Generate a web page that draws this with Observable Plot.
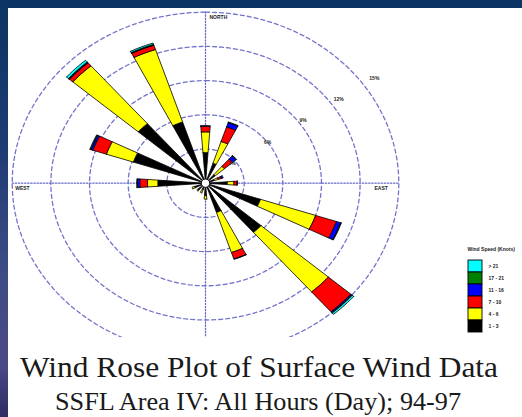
<!DOCTYPE html>
<html><head><meta charset="utf-8">
<script src="https://cdn.jsdelivr.net/npm/d3@7"></script>
<script src="https://cdn.jsdelivr.net/npm/@observablehq/plot@0.6"></script>
<style>
html,body{margin:0;padding:0;background:#fff;}
#page{position:relative;width:522px;height:417px;overflow:hidden;background:#fff;}
#topbar{position:absolute;left:0;top:0;width:522px;height:8px;background:#0b3464;z-index:5}
#leftbar{position:absolute;left:0;top:0;width:8px;height:417px;background:linear-gradient(#0b3464 0%,#1d3c72 35%,#3e4c86 65%,#4a4886 88%,#2e2c62 100%);z-index:5}
#rose{position:absolute;left:0;top:0;width:522px;height:337px;overflow:hidden}
#legend{position:absolute;left:460px;top:240px}
#titles{position:absolute;left:0;top:337px}
</style></head>
<body><div id="page">
<div id="rose"></div>
<div id="legend"></div>
<svg id="titles" width="522" height="80">
  <text id="t1" x="259" y="40" text-anchor="middle" textLength="478" lengthAdjust="spacingAndGlyphs" font-family="Liberation Serif, serif" font-size="30" fill="#1a1a1a"></text>
  <text id="t2" x="258" y="73" text-anchor="middle" textLength="406" lengthAdjust="spacingAndGlyphs" font-family="Liberation Serif, serif" font-size="25" fill="#1a1a1a"></text>
</svg>
<div id="topbar"></div>
<div id="leftbar"></div>
</div>
<script>
// ---- data (percent of time) ----
const directions = ["N","NNE","NE","ENE","E","ESE","SE","SSE","S","SSW","SW","WSW","W","WNW","NW","NNW"];
const speed1to3   = [2.7,1.85,1.0,0.7,1.7,4.5,5.7,2.7,1.1,0.6,0.8,0.9,3.7,5.9,6.9,5.65];
const speed4to6   = [1.8,2.0,0.95,0.35,0.5,4.5,6.9,3.7,0.3,0.3,0.1,0.2,0.8,2.2,6.7,6.7];
const speed7to10  = [0.5,1.35,0.85,0.25,0.25,1.7,2.3,0.6,0,0,0,0,0.6,1.1,0.35,0.4];
const speed11to16 = [0.05,0.4,0.35,0.15,0.03,0.35,0.1,0.03,0,0,0,0,0.2,0.15,0.05,0.03];
const speed17to21 = [0,0.05,0.05,0,0,0.05,0.05,0,0,0,0,0,0.03,0.05,0.05,0.05];
const speedOver21 = [0,0,0,0,0,0,0.15,0,0,0,0,0,0,0.05,0.2,0.12];

const speedLabels = ["> 21","17 - 21","11 - 16","7 - 10","4 - 6","1 - 3"];
const speedColors = ["#00ffff","#008000","#0000ff","#ff0000","#ffff00","#000000"];
const ringValues = [3,6,9,12,15];
const ringLabels = ["3%","6%","9%","12%","15%"];
const compassLabels = ["NORTH","EAST","WEST"];
const legendTitle = "Wind Speed (Knots)";
const titleText = "Wind Rose Plot of Surface Wind Data";
const subtitleText = "SSFL Area IV: All Hours (Day); 94-97";

// series from inner (1-3) to outer (>21)
const series = [speed1to3, speed4to6, speed7to10, speed11to16, speed17to21, speedOver21];
const seriesColors = ["#000000","#ffff00","#ff0000","#0000ff","#008000","#00ffff"];

// ---- geometry helpers ----
const rad = Math.PI / 180;
const half = 4.2 * rad;
function wedge(theta, r0, r1) {
  const pts = [], n = 6;
  for (let i = 0; i <= n; i++) { const a = theta - half + 2 * half * i / n; pts.push([r1 * Math.sin(a), r1 * Math.cos(a)]); }
  if (r0 > 0) for (let i = n; i >= 0; i--) { const a = theta - half + 2 * half * i / n; pts.push([r0 * Math.sin(a), r0 * Math.cos(a)]); }
  else pts.push([0, 0]);
  pts.push(pts[0]);
  return pts;
}
const segRows = series.map(() => []);
directions.forEach((dir, i) => {
  const theta = i * 22.5 * rad;
  let cum = 0;
  series.forEach((s, k) => {
    const v = s[i];
    if (v > 0) {
      wedge(theta, cum, cum + v).forEach(([x, y]) => segRows[k].push({x, y, seg: dir + k}));
      cum += v;
    }
  });
});
const ringRows = [];
ringValues.forEach(v => { for (let a = 0; a <= 360; a += 2) ringRows.push({x: v * Math.sin(a * rad), y: v * Math.cos(a * rad), ring: v}); });
const rMax = d3.max(ringValues);
const axisRows = [
  {x: -rMax, y: 0, g: "h"}, {x: rMax, y: 0, g: "h"},
  {x: 0, y: -rMax, g: "v"}, {x: 0, y: rMax, g: "v"}
];

// ---- rose ----
const CX = 205, CY = 182.7, RX = 193.3, RY = 171;
const rose = Plot.plot({
  width: 522, height: 337, margin: 0,
  style: {background: "transparent", overflow: "hidden"},
  x: {type: "linear", domain: [-rMax, rMax], range: [CX - RX, CX + RX], axis: null},
  y: {type: "linear", domain: [-rMax, rMax], range: [CY + RY, CY - RY], axis: null},
  marks: [
    Plot.line(ringRows, {x: "x", y: "y", z: "ring", stroke: "#7474cc", strokeWidth: 1.3, strokeDasharray: "4,3"}),
    Plot.line(axisRows, {x: "x", y: "y", z: "g", stroke: "#6a6acb", strokeWidth: 1.3, strokeDasharray: "1.3,1.8"}),
    ...segRows.map((rows, k) => Plot.line(rows, {x: "x", y: "y", z: "seg", fill: seriesColors[k], stroke: "#000", strokeWidth: 0.8, strokeLinejoin: "miter", curve: "linear"})),
    Plot.dot([{x: 0, y: 0}], {x: "x", y: "y", r: 4.2, fill: "white", stroke: "black", strokeWidth: 1}),
    Plot.text(ringValues, {x: v => 0.92 * v - 0.7, y: v => 0.62 * v - 0.1, text: (v, i) => ringLabels[i], fontSize: 5, fontWeight: "bold", fill: "#222", fontFamily: "Liberation Sans, Arial, sans-serif"}),
    Plot.text([compassLabels[0]], {x: 0, y: rMax, dx: 4, dy: 5, textAnchor: "start", fontSize: 5, fontWeight: "bold", fill: "#222", fontFamily: "Liberation Sans, Arial, sans-serif"}),
    Plot.text([compassLabels[1]], {x: rMax, y: 0, dx: -11, dy: 5, textAnchor: "end", fontSize: 5, fontWeight: "bold", fill: "#222", fontFamily: "Liberation Sans, Arial, sans-serif"}),
    Plot.text([compassLabels[2]], {x: -rMax, y: 0, dx: 3, dy: 5, textAnchor: "start", fontSize: 5, fontWeight: "bold", fill: "#222", fontFamily: "Liberation Sans, Arial, sans-serif"})
  ]
});
document.getElementById("rose").appendChild(rose);

// ---- legend ----
const legend = Plot.plot({
  width: 62, height: 100, margin: 0,
  style: {background: "transparent"},
  x: {type: "band", domain: ["k"], range: [7.7, 21.7], padding: 0, axis: null},
  y: {type: "band", domain: speedLabels, range: [17.3, 95], padding: 0, axis: null},
  color: {type: "identity"},
  marks: [
    Plot.cell(speedLabels, {x: () => "k", y: d => d, fill: (d, i) => speedColors[i], stroke: "#000", strokeWidth: 0.9, inset: 0}),
    Plot.text(speedLabels, {x: () => "k", y: d => d, dx: 13, textAnchor: "start", fontSize: 5, fontWeight: "bold", fill: "#222", fontFamily: "Liberation Sans, Arial, sans-serif"}),
    Plot.text([legendTitle], {frameAnchor: "top-left", dx: 7, dy: 7, textAnchor: "start", fontSize: 5, fontWeight: "bold", fill: "#222", fontFamily: "Liberation Sans, Arial, sans-serif"})
  ]
});
document.getElementById("legend").appendChild(legend);

document.getElementById("t1").textContent = titleText;
document.getElementById("t2").textContent = subtitleText;
</script>
</body></html>
